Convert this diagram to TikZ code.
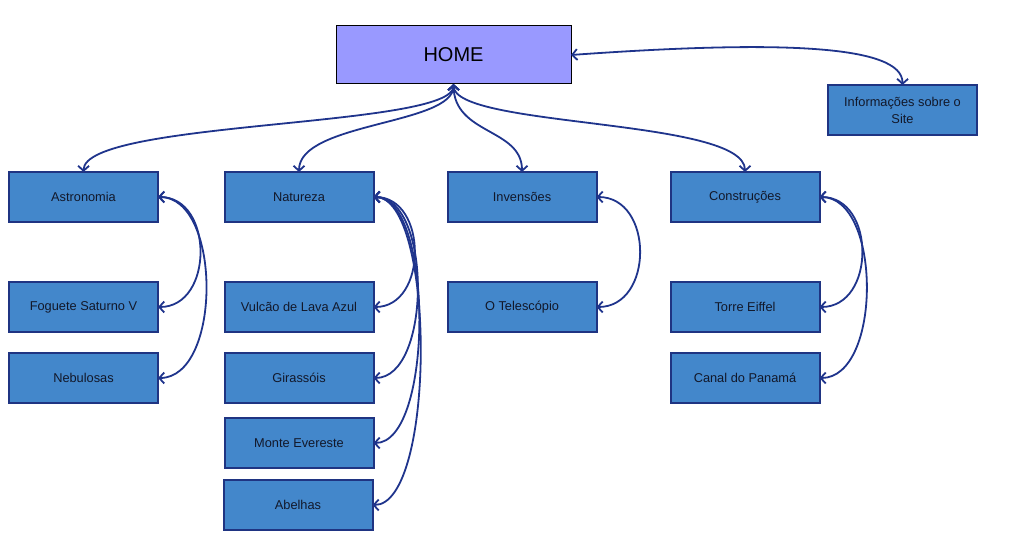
\documentclass[tikz,border=0pt]{standalone}
\usepackage{fontspec}
\setmainfont{Liberation Sans}
\usetikzlibrary{arrows.meta}
\definecolor{boxfill}{RGB}{67,135,203}
\definecolor{boxline}{RGB}{31,52,130}
\definecolor{boxtext}{RGB}{18,24,42}
\definecolor{homefill}{RGB}{153,153,255}
\definecolor{link}{RGB}{31,52,140}
\begin{document}
\begin{tikzpicture}[x=1pt,y=-1pt,
  box/.style={draw=boxline,line width=2pt,fill=boxfill,text=boxtext,
    minimum width=149pt,minimum height=50pt,inner sep=0pt,outer sep=0pt,
    font=\fontsize{12.8}{17}\selectfont,align=center},
  homebox/.style={draw=black,line width=1pt,fill=homefill,text=black,
    minimum width=235pt,minimum height=58pt,inner sep=0pt,outer sep=0pt,
    font=\fontsize{20}{24}\selectfont},
  link/.style={draw=link,line width=1.8pt,
    {Straight Barb[length=5pt,width=11pt,line width=1.8pt]}-{Straight Barb[length=5pt,width=11pt,line width=1.8pt]}}
]
\useasboundingbox (0,0) rectangle (1028,545);
\node[homebox] (home) at (453.5,55) {HOME};
\node[box] (info) at (902.5,110) {Informações sobre o\\Site};
\node[box] (astro) at (83.5,197) {Astronomia};
\node[box] (foguete) at (83.5,307) {Foguete Saturno V};
\node[box] (nebul) at (83.5,378) {Nebulosas};
\node[box] (natur) at (299,197) {Natureza};
\node[box] (vulcao) at (299,307) {Vulcão de Lava Azul};
\node[box] (gira) at (299,378) {Girassóis};
\node[box] (monte) at (299,443) {Monte Evereste};
\node[box] (abelhas) at (298,505) {Abelhas};
\node[box] (inven) at (522,197) {Invensões};
\node[box] (teles) at (522,307) {O Telescópio};
\node[box] (constr) at (745,197) {Construções};
\node[box] (torre) at (745,307) {Torre Eiffel};
\node[box] (canal) at (745,378) {Canal do Panamá};

\coordinate (hb) at (home.south);
\path[link] (hb) .. controls (454,128) and (84,120) .. (astro.north);
\path[link] (hb) .. controls (454,125) and (299,122) .. (natur.north);
\path[link] (hb) .. controls (454,135) and (522,128) .. (inven.north);
\path[link] (hb) .. controls (454,128) and (745,118) .. (constr.north);
\path[link] (home.east) .. controls (780,40) and (903,45) .. (info.north);

\path[link] (astro.east) .. controls (214,197) and (214,307) .. (foguete.east);
\path[link] (astro.east) .. controls (222,197) and (222,378) .. (nebul.east);

\path[link] (natur.east) .. controls (428,197) and (428,307) .. (vulcao.east);
\path[link] (natur.east) .. controls (432,197) and (432,378) .. (gira.east);
\path[link] (natur.east) .. controls (434,197) and (434,443) .. (monte.east);
\path[link] (natur.east) .. controls (436,197) and (436,505) .. (abelhas.east);

\path[link] (inven.east) .. controls (654,197) and (654,307) .. (teles.east);

\path[link] (constr.east) .. controls (876,197) and (876,307) .. (torre.east);
\path[link] (constr.east) .. controls (882,197) and (882,378) .. (canal.east);
\end{tikzpicture}
\end{document}
